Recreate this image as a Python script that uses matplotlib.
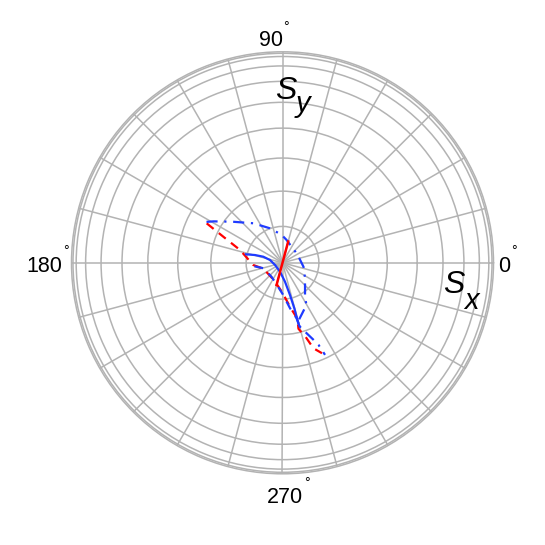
import numpy as np
from matplotlib import pyplot as plt

plt.rcParams['font.family'] = ['Liberation Sans', 'DejaVu Sans']

# Rejilla: circulos a sin(10..90 grados), radios cada 15 grados
circulos_deg = np.arange(10, 91, 10)
radios_deg = np.arange(0, 360, 15)

# Linea roja continua (pasa por el centro)
roja_theta = [75, 75, 255, 255]
roja_r = [0.105, 0.0, 0.0, 0.110]

# Curva azul continua
azul_theta = [166.9, 164.2, 162.4, 167.4, 196.3, 254.3, 277.5, 283.1, 284.6, 284.6, 285.0]
azul_r = [0.179, 0.136, 0.096, 0.061, 0.037, 0.044, 0.091, 0.158, 0.227, 0.298, 0.312]

# Curva roja discontinua
roja_disc_theta = [152.5, 156.2, 163.2, 184.3, 197.5, 246.0, 270.0, 280.1, 285.0, 283.6, 287.3, 289.9, 293.6]
roja_disc_r = [0.408, 0.309, 0.212, 0.140, 0.095, 0.094, 0.143, 0.218, 0.277, 0.324, 0.370, 0.434, 0.471]

# Curva azul discontinua (tramo inferior)
azul_disc_theta = [187.1, 196.1, 231.8, 248.5, 270.0, 279.4, 284.2, 285.3]
azul_disc_r = [0.135, 0.094, 0.085, 0.098, 0.148, 0.220, 0.273, 0.317]

# Curva azul punto-raya (arco superior y lado derecho)
azul_pr_theta = [151.7, 149.0, 140.6, 126.3, 109.9, 92.0, 80.1, 34.2, 9.7, -10.8, -33.7, -46.8,
                 -57.3, -60.3, -68.2, -73.9, -74.7, -71.9, -68.1, -66.3, -65.2]
azul_pr_r = [0.412, 0.384, 0.309, 0.234, 0.175, 0.134, 0.111, 0.081, 0.085, 0.102, 0.129, 0.157,
             0.199, 0.231, 0.257, 0.283, 0.317, 0.346, 0.396, 0.428, 0.484]

# Etiquetas de angulo: (texto, x_izq, y_base, x_grado, y_grado) en pixeles
etiquetas = [('90', 259, 46.5, 286, 27),
             ('180', 26, 271.5, 66, 251),
             ('0', 498, 271.5, 514, 251),
             ('270', 267, 503, 307, 483)]

GRIS = '#b3b3b3'
ROJO = '#ff0000'
AZUL = '#1f3bff'
W = H = 545


def px(x, y):
    return x / W, 1 - y / H


def main():
    fig = plt.figure(figsize=(5.45, 5.45), dpi=100)
    cx, cy, rf = 282.5, 262.8, 211.0
    ax = fig.add_axes([(cx - rf) / W, (H - cy - rf) / H, 2 * rf / W, 2 * rf / H],
                      projection='polar')
    ax.set_ylim(0, rf / 209.5)
    ax.set_yticks(np.sin(np.deg2rad(circulos_deg)))
    ax.set_yticklabels([])
    ax.set_xticks(np.deg2rad(radios_deg))
    ax.set_xticklabels([])
    ax.tick_params(length=0)
    ax.grid(True, color=GRIS, lw=1.1)
    ax.spines['polar'].set_color(GRIS)
    ax.spines['polar'].set_linewidth(1.1)

    ax.plot(np.deg2rad(roja_disc_theta), roja_disc_r, color=ROJO, lw=1.6, dashes=(4, 3))
    ax.plot(np.deg2rad(azul_disc_theta), azul_disc_r, color=AZUL, lw=1.6, dashes=(4, 3.5))
    ax.plot(np.deg2rad(azul_pr_theta), azul_pr_r, color=AZUL, lw=1.6, dashes=(5, 3, 1, 3))
    ax.plot(np.deg2rad(azul_theta), azul_r, color=AZUL, lw=1.6)
    ax.plot(np.deg2rad(roja_theta), roja_r, color=ROJO, lw=1.8)

    for txt, x, y, xg, yg in etiquetas:
        fig.text(*px(x, y), txt, fontsize=15.5, ha='left', va='baseline')
        fig.text(*px(xg, yg), '°', fontsize=10, ha='center', va='center')

    # Etiquetas de ejes Sx, Sy
    fig.text(*px(443, 293), 'S', fontsize=23, style='italic', ha='left', va='baseline')
    fig.text(*px(464, 309), 'x', fontsize=21, style='italic', ha='left', va='baseline')
    fig.text(*px(275, 99), 'S', fontsize=23, style='italic', ha='left', va='baseline')
    fig.text(*px(296, 112), 'y', fontsize=21, style='italic', ha='left', va='baseline')

    fig.savefig('out.png', dpi=100)
    plt.close(fig)


if __name__ == "__main__":
    main()
